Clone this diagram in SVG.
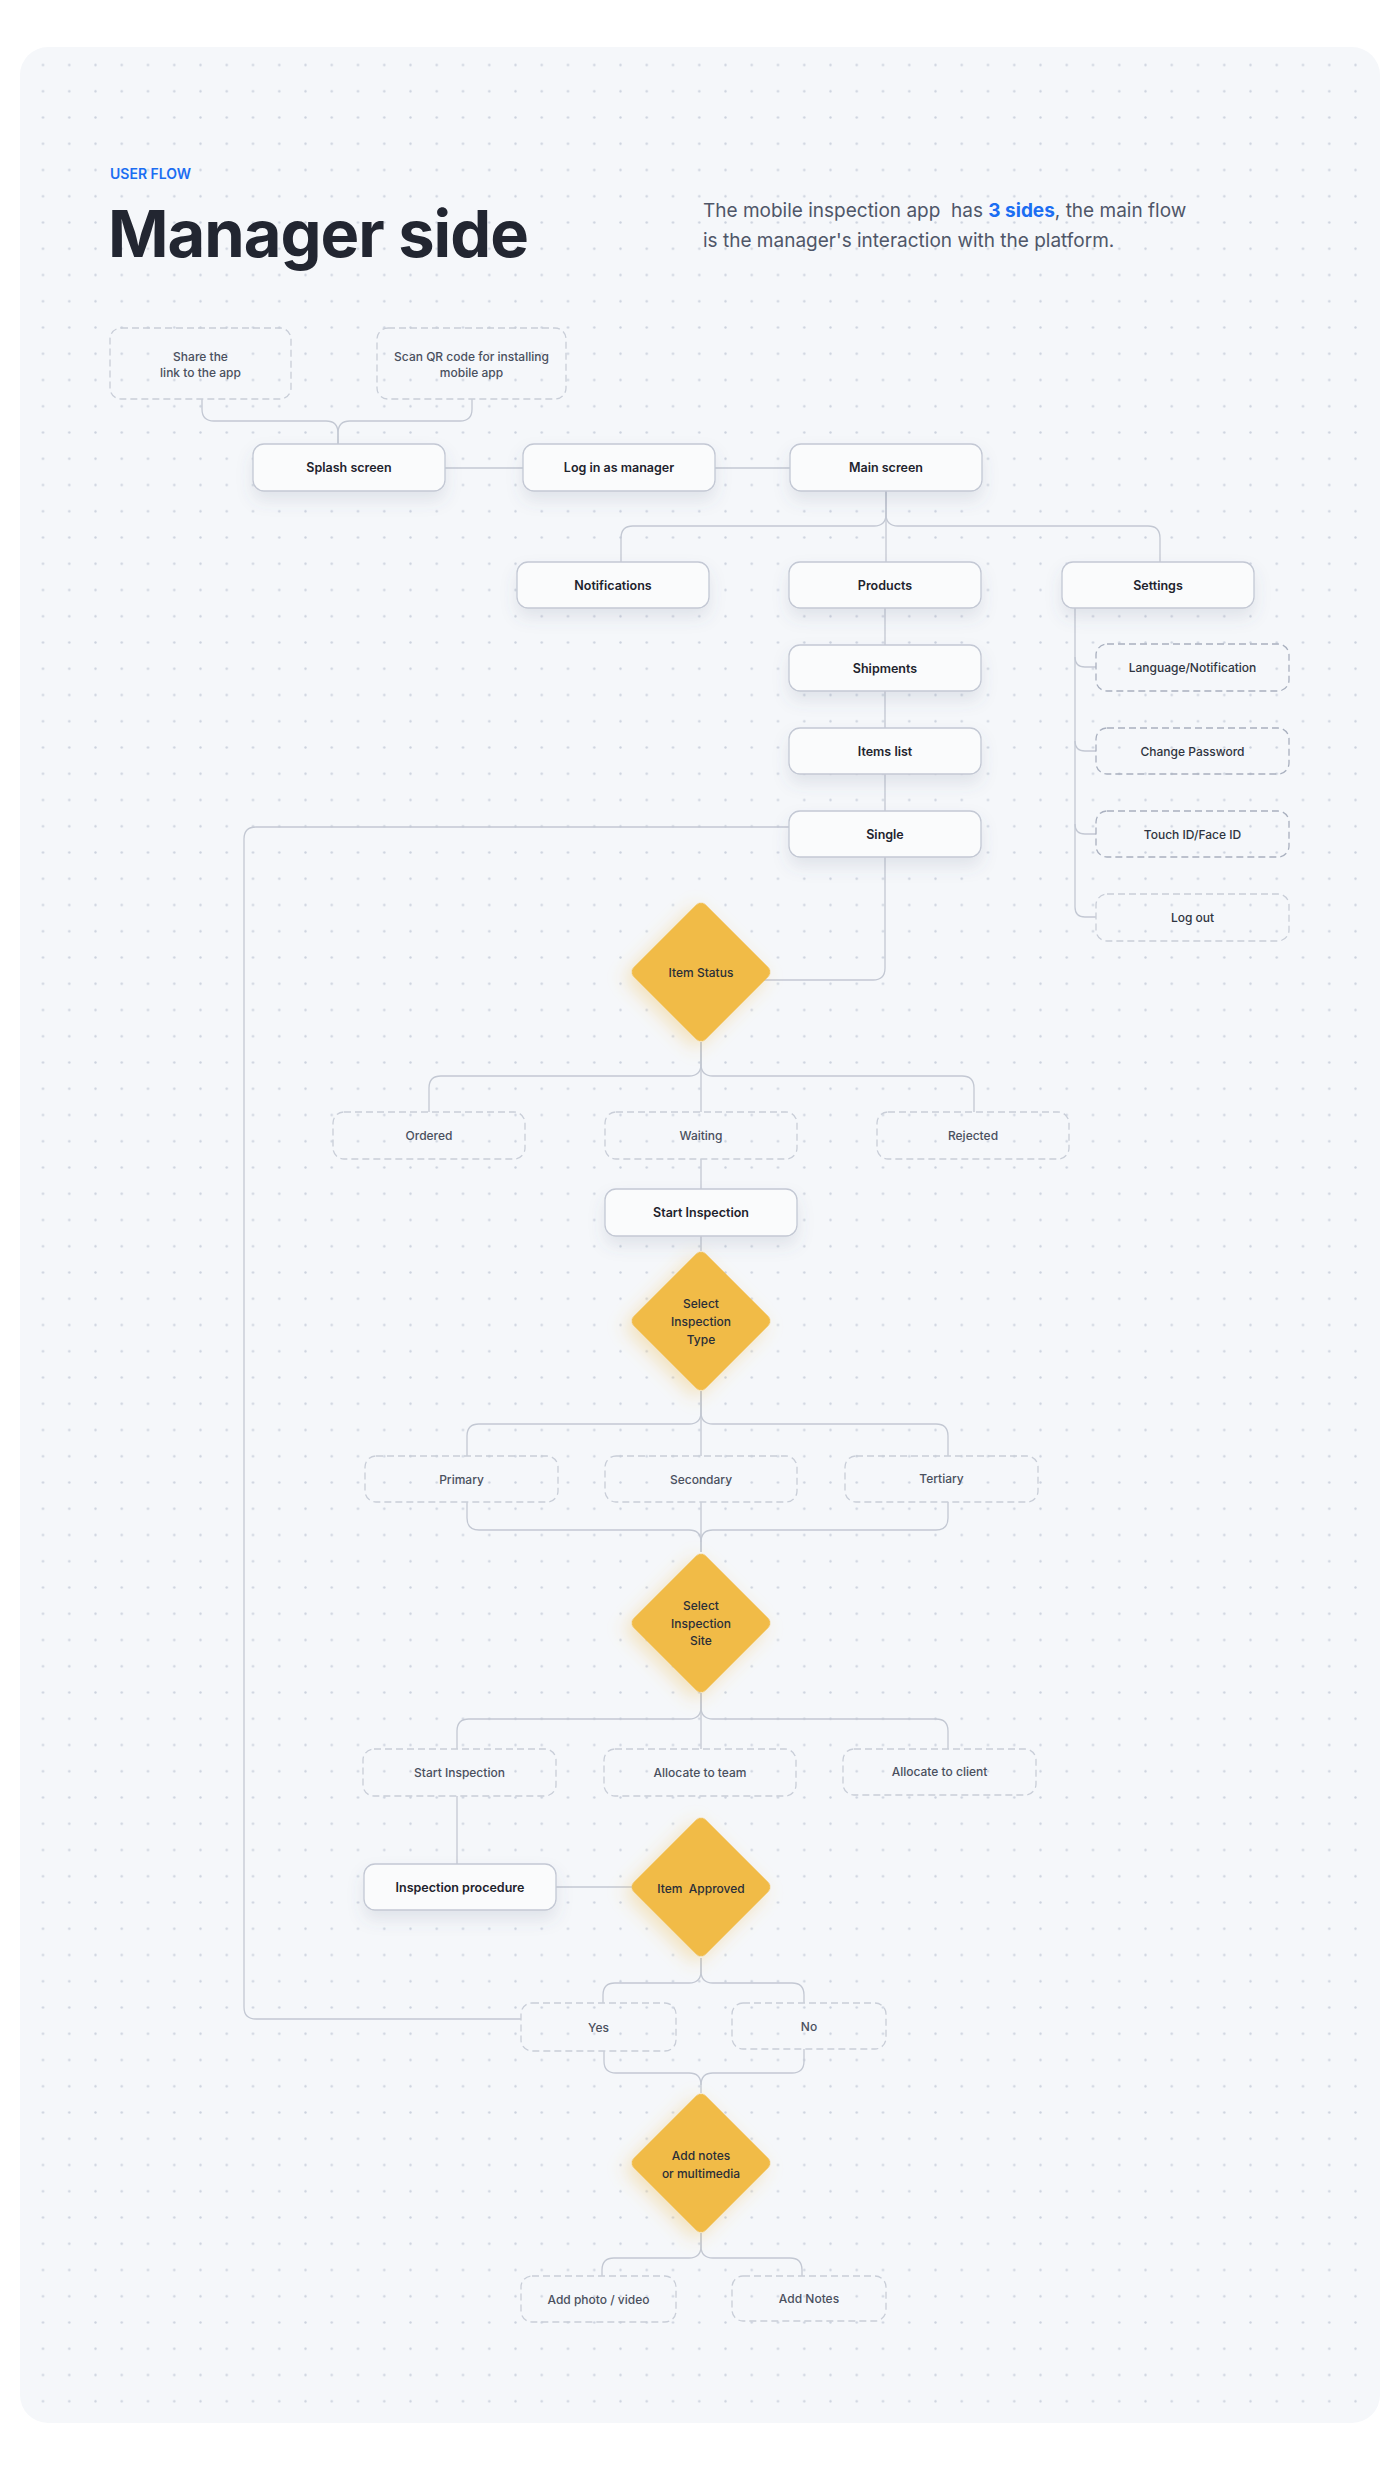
<svg xmlns="http://www.w3.org/2000/svg" width="1400" height="2483" viewBox="0 0 1400 2483">
<defs>
<pattern id="dots" x="29.875" y="51.875" width="26.25" height="26.25" patternUnits="userSpaceOnUse">
<circle cx="13.125" cy="13.125" r="1.2" fill="#ccd2de"/>
</pattern>
<filter id="sh" x="-30%" y="-40%" width="160%" height="220%">
<feDropShadow dx="0" dy="9" stdDeviation="8" flood-color="#59627e" flood-opacity="0.13"/>
</filter>
<filter id="shy" x="-40%" y="-40%" width="180%" height="180%">
<feDropShadow dx="0" dy="8" stdDeviation="9" flood-color="#f0bb48" flood-opacity="0.35"/>
</filter>
<style>
.solid{fill:#fafbfc;stroke:#c3c8d4;stroke-width:1.3}
.dash{fill:none;stroke:#c9ced8;stroke-width:1.3;stroke-dasharray:7 4}
.dash2{fill:none;stroke:#a9b0bf;stroke-width:1.3;stroke-dasharray:7 4}
.dia{fill:#f1bb47}
.t{font-family:Inter,"Liberation Sans",sans-serif;font-size:12.5px;font-weight:600;fill:#1e232d;text-anchor:middle;dominant-baseline:central}
.td{font-family:Inter,"Liberation Sans",sans-serif;font-size:12px;font-weight:500;fill:#4a505e;text-anchor:middle;dominant-baseline:central}
.tdk{font-family:Inter,"Liberation Sans",sans-serif;font-size:12px;font-weight:500;fill:#2f3440;text-anchor:middle;dominant-baseline:central}
.tdi{font-family:Inter,"Liberation Sans",sans-serif;font-size:12px;font-weight:500;fill:#2a2e38;text-anchor:middle;dominant-baseline:central}
.c{fill:none;stroke:#c3c8d3;stroke-width:1.3}
</style>
</defs>
<rect width="1400" height="2483" fill="#ffffff"/>
<rect x="20" y="47" width="1360" height="2376" rx="28" fill="#f5f7fa"/>
<rect x="20" y="47" width="1360" height="2376" rx="28" fill="url(#dots)"/>

<g id="header">
<text x="110" y="179" font-family="Inter,'Liberation Sans',sans-serif" font-size="14" font-weight="600" fill="#1c6ef2">USER FLOW</text>
<text x="108" y="257" font-family="Inter,'Liberation Sans',sans-serif" font-size="65" font-weight="700" letter-spacing="-1" fill="#222631">Manager side</text>
<text x="703" y="217" font-family="Inter,'Liberation Sans',sans-serif" font-size="19" fill="#4f5668" style="white-space:pre">The mobile inspection app  has <tspan font-weight="700" fill="#1c6ef2">3 sides</tspan>, the main flow</text>
<text x="703" y="247" font-family="Inter,'Liberation Sans',sans-serif" font-size="19" fill="#4f5668">is the manager's interaction with the platform.</text>
</g>

<g id="connectors">
<path class="c" d="M202,399 V409 Q202,421 214,421 H326 Q338,421 338,433 V444"/>
<path class="c" d="M472,399 V409 Q472,421 460,421 H350 Q338,421 338,433 V444"/>
<path class="c" d="M445,468 H523"/>
<path class="c" d="M715,468 H790"/>
<path class="c" d="M886,491 V514 Q886,526 874,526 H633 Q621,526 621,538 V562"/>
<path class="c" d="M886,491 V514 Q886,526 898,526 H1148 Q1160,526 1160,538 V562"/>
<path class="c" d="M886,491 V562"/>
<path class="c" d="M885,608 V645 M885,691 V728 M885,774 V811"/>
<path class="c" d="M1075,608 V907 Q1075,917 1085,917 H1096"/>
<path class="c" d="M1075,657 Q1075,667 1085,667 H1096 M1075,741 Q1075,751 1085,751 H1096 M1075,824 Q1075,834 1085,834 H1096"/>
<path class="c" d="M885,857 V968 Q885,980 873,980 H740"/>
<path class="c" d="M789,827 H256 Q244,827 244,839 V2007 Q244,2019 256,2019 H521"/>
<path class="c" d="M701,1042 V1064 Q701,1076 689,1076 H441 Q429,1076 429,1088 V1112"/>
<path class="c" d="M701,1042 V1064 Q701,1076 713,1076 H962 Q974,1076 974,1088 V1112"/>
<path class="c" d="M701,1042 V1112 M701,1159 V1189 M701,1236 V1251"/>
<path class="c" d="M701,1391 V1412 Q701,1424 689,1424 H479 Q467,1424 467,1436 V1456"/>
<path class="c" d="M701,1391 V1412 Q701,1424 713,1424 H936 Q948,1424 948,1436 V1456"/>
<path class="c" d="M701,1391 V1456 M701,1502 V1552"/>
<path class="c" d="M467,1502 V1518 Q467,1530 479,1530 H689 Q701,1530 701,1542 V1552"/>
<path class="c" d="M948,1502 V1518 Q948,1530 936,1530 H713 Q701,1530 701,1542"/>
<path class="c" d="M701,1693 V1707 Q701,1719 689,1719 H469 Q457,1719 457,1731 V1749"/>
<path class="c" d="M701,1693 V1707 Q701,1719 713,1719 H936 Q948,1719 948,1731 V1749"/>
<path class="c" d="M701,1693 V1749"/>
<path class="c" d="M457,1796 V1864"/>
<path class="c" d="M556,1887 H640"/>
<path class="c" d="M701,1958 V1971 Q701,1983 689,1983 H615 Q603,1983 603,1995 V2003"/>
<path class="c" d="M701,1958 V1971 Q701,1983 713,1983 H792 Q804,1983 804,1995 V2003"/>
<path class="c" d="M604,2051 V2061 Q604,2073 616,2073 H689 Q701,2073 701,2085 V2093"/>
<path class="c" d="M804,2049 V2061 Q804,2073 792,2073 H713 Q701,2073 701,2085"/>
<path class="c" d="M701,2233 V2246 Q701,2258 689,2258 H614 Q602,2258 602,2270 V2276"/>
<path class="c" d="M701,2233 V2246 Q701,2258 713,2258 H790 Q802,2258 802,2270 V2276"/>
</g>

<g id="n-share"><rect class="dash" x="110" y="328" width="181" height="71" rx="11"/><text class="td"><tspan x="200.5" y="356">Share the</tspan><tspan x="200.5" y="372">link to the app</tspan></text></g>
<g id="n-qr"><rect class="dash" x="377" y="328" width="189" height="71" rx="11"/><text class="td"><tspan x="471.5" y="356">Scan QR code for installing</tspan><tspan x="471.5" y="372">mobile app</tspan></text></g>
<g id="n-splash"><rect class="solid" filter="url(#sh)" x="253" y="444" width="192" height="47" rx="11"/><text class="t" x="349" y="467.5">Splash screen</text></g>
<g id="n-login"><rect class="solid" filter="url(#sh)" x="523" y="444" width="192" height="47" rx="11"/><text class="t" x="619" y="467.5">Log in as manager</text></g>
<g id="n-main"><rect class="solid" filter="url(#sh)" x="790" y="444" width="192" height="47" rx="11"/><text class="t" x="886" y="467.5">Main screen</text></g>
<g id="n-notifications"><rect class="solid" filter="url(#sh)" x="517" y="562" width="192" height="46" rx="11"/><text class="t" x="613" y="585">Notifications</text></g>
<g id="n-products"><rect class="solid" filter="url(#sh)" x="789" y="562" width="192" height="46" rx="11"/><text class="t" x="885" y="585">Products</text></g>
<g id="n-settings"><rect class="solid" filter="url(#sh)" x="1062" y="562" width="192" height="46" rx="11"/><text class="t" x="1158" y="585">Settings</text></g>
<g id="n-shipments"><rect class="solid" filter="url(#sh)" x="789" y="645" width="192" height="46" rx="11"/><text class="t" x="885" y="668">Shipments</text></g>
<g id="n-items"><rect class="solid" filter="url(#sh)" x="789" y="728" width="192" height="46" rx="11"/><text class="t" x="885" y="751">Items list</text></g>
<g id="n-single"><rect class="solid" filter="url(#sh)" x="789" y="811" width="192" height="46" rx="11"/><text class="t" x="885" y="834">Single</text></g>
<g id="n-lang"><rect class="dash2" x="1096" y="644" width="193" height="47" rx="11"/><text class="tdk" x="1192.5" y="667.5">Language/Notification</text></g>
<g id="n-pwd"><rect class="dash2" x="1096" y="728" width="193" height="46" rx="11"/><text class="tdk" x="1192.5" y="751">Change Password</text></g>
<g id="n-touch"><rect class="dash2" x="1096" y="811" width="193" height="46" rx="11"/><text class="tdk" x="1192.5" y="834">Touch ID/Face ID</text></g>
<g id="n-logout"><rect class="dash" x="1096" y="894" width="193" height="47" rx="11"/><text class="tdk" x="1192.5" y="917.5">Log out</text></g>

<g id="n-itemstatus"><rect class="dia" filter="url(#shy)" x="650" y="921" width="102" height="102" rx="7" transform="rotate(45 701 972)"/><text class="tdi" x="701" y="972">Item Status</text></g>
<g id="n-ordered"><rect class="dash" x="333" y="1112" width="192" height="47" rx="11"/><text class="td" x="429" y="1135.5">Ordered</text></g>
<g id="n-waiting"><rect class="dash" x="605" y="1112" width="192" height="47" rx="11"/><text class="td" x="701" y="1135.5">Waiting</text></g>
<g id="n-rejected"><rect class="dash" x="877" y="1112" width="192" height="47" rx="11"/><text class="td" x="973" y="1135.5">Rejected</text></g>
<g id="n-start"><rect class="solid" filter="url(#sh)" x="605" y="1189" width="192" height="47" rx="11"/><text class="t" x="701" y="1212.5">Start Inspection</text></g>
<g id="n-type"><rect class="dia" filter="url(#shy)" x="650" y="1270" width="102" height="102" rx="7" transform="rotate(45 701 1321)"/><text class="tdi"><tspan x="701" y="1303">Select</tspan><tspan x="701" y="1321">Inspection</tspan><tspan x="701" y="1339">Type</tspan></text></g>
<g id="n-primary"><rect class="dash" x="365" y="1456" width="193" height="46" rx="11"/><text class="td" x="461.5" y="1479">Primary</text></g>
<g id="n-secondary"><rect class="dash" x="605" y="1456" width="192" height="46" rx="11"/><text class="td" x="701" y="1479">Secondary</text></g>
<g id="n-tertiary"><rect class="dash" x="845" y="1456" width="193" height="46" rx="11"/><text class="td" x="941.5" y="1478">Tertiary</text></g>
<g id="n-site"><rect class="dia" filter="url(#shy)" x="650" y="1572" width="102" height="102" rx="7" transform="rotate(45 701 1623)"/><text class="tdi"><tspan x="701" y="1605">Select</tspan><tspan x="701" y="1623">Inspection</tspan><tspan x="701" y="1640">Site</tspan></text></g>
<g id="n-start2"><rect class="dash" x="363" y="1749" width="193" height="47" rx="11"/><text class="td" x="459.5" y="1772.5">Start Inspection</text></g>
<g id="n-team"><rect class="dash" x="604" y="1749" width="192" height="47" rx="11"/><text class="td" x="700" y="1772.5">Allocate to team</text></g>
<g id="n-client"><rect class="dash" x="843" y="1749" width="193" height="46" rx="11"/><text class="td" x="939.5" y="1771.5">Allocate to client</text></g>
<g id="n-procedure"><rect class="solid" filter="url(#sh)" x="364" y="1864" width="192" height="46" rx="11"/><text class="t" x="460" y="1887">Inspection procedure</text></g>
<g id="n-approved"><rect class="dia" filter="url(#shy)" x="650" y="1836" width="102" height="102" rx="7" transform="rotate(45 701 1887)"/><text class="tdi" x="701" y="1888" style="white-space:pre">Item  Approved</text></g>
<g id="n-yes"><rect class="dash" x="521" y="2003" width="155" height="48" rx="11"/><text class="td" x="598.5" y="2027">Yes</text></g>
<g id="n-no"><rect class="dash" x="732" y="2003" width="154" height="46" rx="11"/><text class="td" x="809" y="2026">No</text></g>
<g id="n-addnotes"><rect class="dia" filter="url(#shy)" x="650" y="2112" width="102" height="102" rx="7" transform="rotate(45 701 2163)"/><text class="tdi" font-weight="600"><tspan x="701" y="2155">Add notes</tspan><tspan x="701" y="2173">or multimedia</tspan></text></g>
<g id="n-photo"><rect class="dash" x="521" y="2276" width="155" height="46" rx="11"/><text class="td" x="598.5" y="2299">Add photo / video</text></g>
<g id="n-notes"><rect class="dash" x="732" y="2276" width="154" height="45" rx="11"/><text class="td" x="809" y="2298.5">Add Notes</text></g>
</svg>
